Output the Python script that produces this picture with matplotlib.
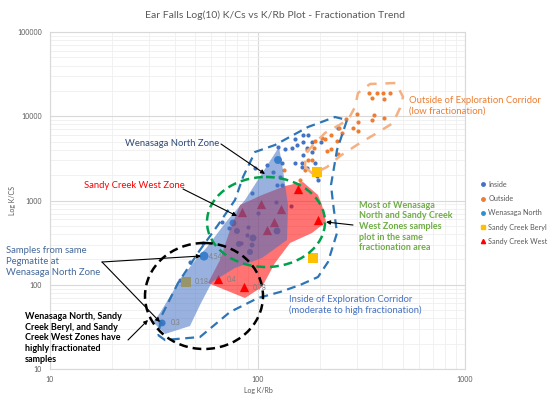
import matplotlib
matplotlib.use('Agg')
import matplotlib.pyplot as plt
from matplotlib.patches import Polygon, Ellipse
from matplotlib.lines import Line2D
from matplotlib.transforms import Affine2D
import matplotlib.ticker as mticker

plt.rcParams['font.family'] = ['Lato', 'DejaVu Sans']

# ---------------- data (K/Rb, K/Cs) ----------------
inside_krb = [97.3, 111.1, 118.8, 128.3, 131.3, 124.2, 94.1, 125.6, 135.7, 146.6,
              151.6, 155.0, 165.7, 165.7, 175.2, 183.1, 173.2, 183.1, 165.7, 151.6,
              163.9, 163.9, 173.2, 189.3, 193.6, 195.7, 131.3, 244.4, 202.3, 67.4,
              47.3, 42.3, 54.6, 83.2, 90.0, 100.6, 122.8, 145.0, 89.0, 34.7, 72.9]
inside_kcs = [2431, 2639, 2180, 1901, 1528, 1528, 1227, 4315, 4087, 4200,
              5370, 4557, 4948, 5990, 5990, 4948, 4200, 3764, 3469, 2787,
              2787, 2498, 2431, 2787, 1954, 1751, 2787, 7254, 4948, 556,
              186, 114, 313, 313, 485, 711, 960, 860, 389, 35.2, 472]

outside_krb = [344.5, 376.6, 402.5, 434.9, 356.2, 407.0, 301.6, 364.2, 407.0, 356.2,
               305.0, 288.5, 305.0, 267.0, 247.1, 255.5, 226.1, 241.7, 204.6, 189.3,
               187.2, 173.2, 226.1, 216.3, 244.4, 183.1, 175.2, 169.4, 160.3, 134.2, 211.5]
outside_kcs = [18880, 18880, 18880, 18880, 16470, 16030, 10630, 10340, 9532, 9027,
               8547, 7254, 6683, 9275, 7254, 6326, 5990, 5084, 5518, 5084,
               4200, 3977, 4087, 3870, 3565, 3025, 3025, 2301, 1751, 2301, 5370]

wn_krb = [55.2, 34.7, 76.2, 125.6, 79.6, 95.1, 94.1, 92.0, 81.4, 124.2]
wn_kcs = [219, 35.2, 541, 3025, 435, 359, 296, 245, 305, 435]
wn_size = [42, 25, 25, 33, 19, 25, 13, 19, 19, 25]
wn_labels = ['4.54', '0.3', '', '', '', '', '', '', '', '']

beryl_krb = [45.2, 185.2, 193.6]
beryl_kcs = [108, 208, 2180]
beryl_labels = ['0.18', '', '']

scw_krb = [64.5, 86.1, 84.2, 103.9, 129.8, 120.1, 111.1, 156.7, 195.7]
scw_kcs = [117, 94, 730, 909, 793, 556, 446, 1369, 587]
scw_labels = ['0.4', '0.78', '', '', '', '', '', '', '']

x_ticks = [10, 100, 1000]
y_ticks = [10, 100, 1000, 10000, 100000]

series_names = ['Inside', 'Outside', 'Wenasaga North', 'Sandy Creek Beryl', 'Sandy Creek West']
series_colors = ['#4472c4', '#ed7d31', '#2f8fd6', '#ffc000', '#ff0000']

# ---------------- figure ----------------
W, H = 550, 407
fig = plt.figure(figsize=(W / 100, H / 100), dpi=100)
ax = fig.add_axes([50 / W, 1 - 369 / H, 415 / W, 337 / H])
ax.set_xscale('log')
ax.set_yscale('log')

ax.set_xticks(x_ticks, labels=[str(v) for v in x_ticks])
ax.set_yticks(y_ticks, labels=[str(v) for v in y_ticks])
ax.xaxis.set_minor_locator(mticker.LogLocator(base=10, subs=range(2, 10)))
ax.yaxis.set_minor_locator(mticker.LogLocator(base=10, subs=range(2, 10)))
ax.xaxis.set_minor_formatter(mticker.NullFormatter())
ax.yaxis.set_minor_formatter(mticker.NullFormatter())
ax.tick_params(which='both', length=0, labelsize=5, labelcolor='#595959')
ax.tick_params(axis='y', pad=6)
ax.tick_params(axis='x', pad=5)
ax.grid(which='major', color='#d9d9d9', lw=0.8)
ax.grid(which='minor', color='#efefef', lw=0.6)
ax.set_axisbelow(True)
for s in ax.spines.values():
    s.set_color('#d9d9d9')
    s.set_linewidth(0.8)

# points
ax.scatter(wn_krb, wn_kcs, s=wn_size, color=series_colors[2], zorder=2, linewidths=0)
ax.scatter(inside_krb, inside_kcs, s=9, color=series_colors[0], zorder=2.1, linewidths=0)
ax.scatter(outside_krb, outside_kcs, s=9, color=series_colors[1], zorder=2.1, linewidths=0)
ax.scatter(beryl_krb, beryl_kcs, s=45, marker='s', color=series_colors[3], zorder=2.2, linewidths=0)
ax.scatter(scw_krb, scw_kcs, s=45, marker='^', color=series_colors[4], zorder=2.2, linewidths=0)

def label_points(xs, ys, labs, dx):
    for x, y, t in zip(xs, ys, labs):
        if t:
            ax.annotate(t, (x, y), xytext=(dx, 0), textcoords='offset points',
                        va='center', ha='left', fontsize=5, color='#7f7f7f', zorder=7)

label_points(wn_krb[:1], wn_kcs[:1], wn_labels[:1], 3.5)
label_points(wn_krb[1:], wn_kcs[1:], wn_labels[1:], 6)
label_points(beryl_krb, beryl_kcs, beryl_labels, 6)
label_points(scw_krb, scw_kcs, scw_labels, 6)

# ---------------- annotation shapes (layout in pixel units) ----------------
pix = Affine2D().scale(1 / W, -1 / H).translate(0, 1) + fig.transFigure

red_zone = [(208, 283), (245, 298), (262, 287), (275, 263), (290, 243), (312, 233),
            (326, 222), (322, 205), (318, 195), (303, 182), (285, 186), (262, 195),
            (240, 205), (230, 230), (220, 260)]
blue_zone = [(153, 322), (165, 334), (190, 326), (200, 305), (212, 282), (235, 268),
             (262, 258), (287, 240), (288, 205), (283, 170), (279, 147), (245, 200),
             (226, 222), (207, 247), (193, 263), (178, 283), (160, 313)]
inside_path = [(158, 335), (165, 340), (200, 337), (230, 312), (258, 298), (280, 292),
               (300, 285), (318, 277), (328, 262), (337, 233), (333, 203), (331, 185),
               (337, 150), (347, 120), (335, 117), (308, 127), (275, 145), (255, 152),
               (243, 177), (235, 200), (218, 225), (200, 250), (178, 283), (162, 315)]
outside_path = [(305, 167), (313, 174), (327, 167), (340, 156), (360, 143), (377, 133),
                (393, 123), (400, 108), (403, 97), (396, 83), (370, 84), (358, 93),
                (355, 107), (348, 120), (325, 133), (315, 143), (306, 153)]

ax.add_patch(Polygon(red_zone, closed=True, transform=pix, facecolor='#ff0000',
                     alpha=0.55, edgecolor='none', zorder=3))
ax.add_patch(Polygon(blue_zone, closed=True, transform=pix, facecolor='#4472c4',
                     alpha=0.55, edgecolor='none', zorder=4))
ax.add_patch(Polygon(inside_path, closed=True, transform=pix, fill=False,
                     edgecolor='#2e75b6', lw=1.6, ls=(0, (4, 2.5)), zorder=5))
ax.add_patch(Polygon(outside_path, closed=True, transform=pix, fill=False,
                     edgecolor='#f4b183', lw=1.8, ls=(0, (4, 3.5)), zorder=5))
ax.add_patch(Ellipse((266, 222), 118, 90, transform=pix, fill=False,
                     edgecolor='#00a04a', lw=1.8, ls=(0, (3.5, 2)), zorder=5))
ax.add_patch(Ellipse((204, 296), 118, 106, transform=pix, fill=False,
                     edgecolor='black', lw=1.8, ls=(0, (3.5, 2)), zorder=5))

ax.set_xlim(10, 1000)
ax.set_ylim(10, 100000)

# ---------------- texts ----------------
def ptxt(px, py, s, **kw):
    fig.text(px / W, 1 - py / H, s, **kw)

ptxt(275, 15, 'Ear Falls Log(10) K/Cs vs K/Rb Plot - Fractionation Trend',
     ha='center', va='center', fontsize=7.5, color='#595959')
ptxt(258, 391, 'Log K/Rb', ha='center', va='center', fontsize=5, color='#595959')
ptxt(13, 200, 'Log K/CS', ha='center', va='center', rotation=90, fontsize=5, color='#595959')

ptxt(125, 143, 'Wenasaga North Zone', ha='left', va='center', fontsize=6.8, color='#2f4a78')
ptxt(84, 186, 'Sandy Creek West Zone', ha='left', va='center', fontsize=6.8, color='#ff0000')
ptxt(6, 261.5, 'Samples from same\nPegmatite at\nWenasaga North Zone', ha='left', va='center',
     fontsize=6.8, color='#44689a', linespacing=1.25)
ptxt(25, 338, 'Wenasaga North, Sandy\nCreek Beryl, and Sandy\nCreek West Zones have\nhighly fractionated\nsamples',
     ha='left', va='center', fontsize=6.5, color='black', fontweight='bold', linespacing=1.25)
ptxt(359, 226.5, 'Most of Wenasaga\nNorth and Sandy Creek\nWest Zones samples\nplot in the same\nfractionation area',
     ha='left', va='center', fontsize=6.5, color='#70ad47', fontweight='bold', linespacing=1.25)
ptxt(289, 305, 'Inside of Exploration Corridor\n(moderate to high fractionation)', ha='left',
     va='center', fontsize=6.8, color='#4472c4', linespacing=1.2)
ptxt(409, 105.5, 'Outside of Exploration Corridor\n(low fractionation)', ha='left',
     va='center', fontsize=6.8, color='#ed7d31', linespacing=1.2)

arrows = [((221, 144), (265, 174)), ((183, 189), (237, 216)), ((102, 262), (201, 256)),
          ((102, 262), (160, 322)), ((128, 340), (148, 320)), ((353, 225), (326, 222))]
for (x0, y0), (x1, y1) in arrows:
    ax.annotate('', xy=(x1 / W, 1 - y1 / H), xytext=(x0 / W, 1 - y0 / H),
                xycoords='figure fraction', textcoords='figure fraction',
                annotation_clip=False,
                arrowprops=dict(arrowstyle='-|>', color='black', lw=0.8,
                                mutation_scale=6, shrinkA=0, shrinkB=0), zorder=6)

# legend
handles = [
    Line2D([], [], ls='none', marker='o', ms=2.5, color=series_colors[0]),
    Line2D([], [], ls='none', marker='o', ms=2.5, color=series_colors[1]),
    Line2D([], [], ls='none', marker='o', ms=2.5, color=series_colors[2]),
    Line2D([], [], ls='none', marker='s', ms=3, color=series_colors[3]),
    Line2D([], [], ls='none', marker='^', ms=3, color=series_colors[4]),
]
fig.legend(handles, series_names, loc='upper left', bbox_to_anchor=(481 / W, 1 - 181 / H),
           frameon=False, fontsize=5.2, labelcolor='#595959', handlelength=0.6,
           handletextpad=0.4, labelspacing=1.0, borderaxespad=0, borderpad=0)

fig.savefig('out.png', dpi=100)
